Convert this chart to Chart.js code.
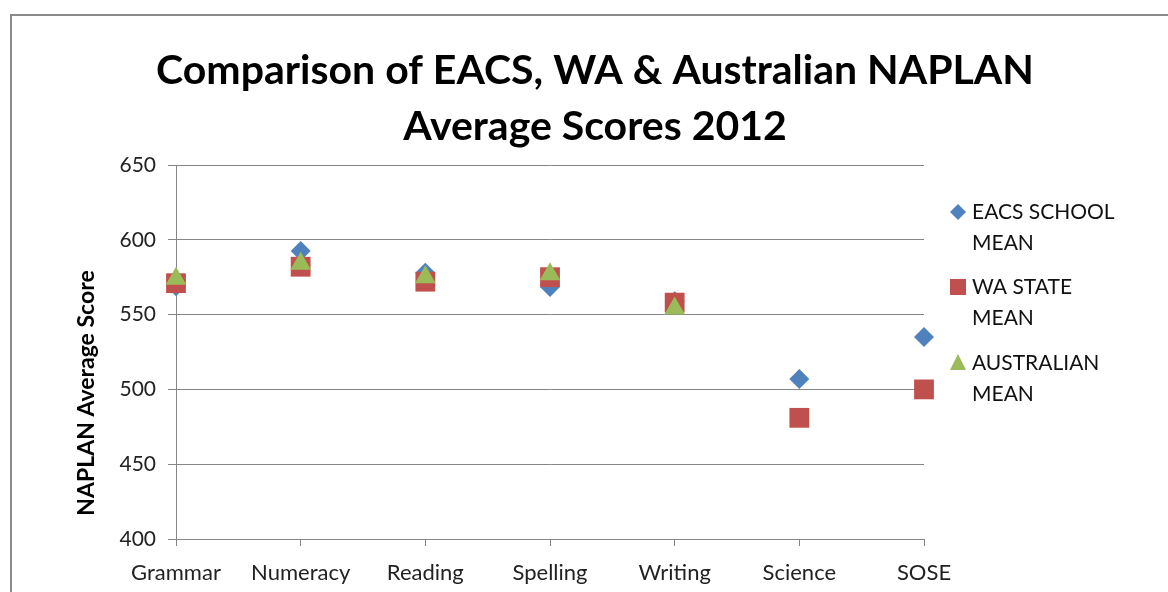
<!DOCTYPE html>
<html>
<head>
<meta charset="utf-8">
<script src="https://cdn.jsdelivr.net/npm/chart.js@4.4.0/dist/chart.umd.min.js"></script>
<style>
html,body{margin:0;padding:0;background:#fff;}
#wrap{width:1168px;height:592px;position:relative;}
</style>
</head>
<body>
<div id="wrap"><canvas id="c" width="1168" height="592"></canvas></div>
<script>
const categories = ["Grammar", "Numeracy", "Reading", "Spelling", "Writing", "Science", "SOSE"];
const eacsMean = [569, 592.5, 578, 568.5, 559, 507, 535];
const waMean = [571, 582, 572, 575, 558, 481, 500];
const ausMean = [574, 584, 575, 577, 554, null, null];
const seriesLabels = [["EACS SCHOOL", "MEAN"], ["WA STATE", "MEAN"], ["AUSTRALIAN", "MEAN"]];
const titleLines = ["Comparison of EACS, WA & Australian NAPLAN", "Average Scores 2012"];
const yAxisTitle = "NAPLAN Average Score";
const yMin = 400, yMax = 650, yStep = 50;

const FONT = "Lato, 'Open Sans', sans-serif";
const BLUE = "#4F81BD", RED = "#C0504D", GREEN = "#9BBB59";

const extras = {
  id: "extras",
  afterDraw(chart) {
    const ctx = chart.ctx;
    ctx.save();
    // frame
    ctx.strokeStyle = "#8a8a8a";
    ctx.lineWidth = 2;
    ctx.beginPath();
    ctx.moveTo(11, 600);
    ctx.lineTo(11, 15);
    ctx.lineTo(1200, 15);
    ctx.stroke();
    // title
    ctx.fillStyle = "#000";
    ctx.textAlign = "center";
    ctx.textBaseline = "alphabetic";
    ctx.font = "bold 41px " + FONT;
    ctx.fillText(titleLines[0], 595, 84);
    ctx.fillText(titleLines[1], 595, 140);
    // y axis title
    ctx.save();
    ctx.translate(87, 393);
    ctx.rotate(-Math.PI / 2);
    ctx.font = "bold 23px " + FONT;
    ctx.textBaseline = "middle";
    ctx.fillText(yAxisTitle, 0, 0);
    ctx.restore();
    // legend
    const items = chart.data.datasets;
    const ys = [212, 287, 363];
    ctx.font = "21px " + FONT;
    ctx.textAlign = "left";
    ctx.textBaseline = "middle";
    items.forEach((ds, i) => {
      const y = ys[i];
      ctx.fillStyle = ds.backgroundColor;
      const x = 958;
      ctx.beginPath();
      if (ds.pointStyle === "rectRot") {
        ctx.moveTo(x, y - 8); ctx.lineTo(x + 8, y); ctx.lineTo(x, y + 8); ctx.lineTo(x - 8, y); ctx.closePath();
      } else if (ds.pointStyle === "rect") {
        ctx.rect(x - 8, y - 8, 16, 16);
      } else {
        ctx.moveTo(x, y - 9); ctx.lineTo(x + 8, y + 7); ctx.lineTo(x - 8, y + 7); ctx.closePath();
      }
      ctx.fill();
      ctx.fillStyle = "#111";
      const lbl = seriesLabels[i];
      lbl.forEach((t, j) => ctx.fillText(t, 972, y + j * 31));
    });
    ctx.restore();
  }
};

new Chart(document.getElementById("c"), {
  type: "line",
  data: {
    labels: categories,
    datasets: [
      { label: seriesLabels[0].join(" "), data: eacsMean, pointStyle: "rectRot", pointRadius: 10, pointHoverRadius: 10,
        backgroundColor: BLUE, borderColor: BLUE, pointBorderWidth: 0, showLine: false, order: 3 },
      { label: seriesLabels[1].join(" "), data: waMean, pointStyle: "rect", pointRadius: 14, pointHoverRadius: 14,
        backgroundColor: RED, borderColor: RED, pointBorderWidth: 0, showLine: false, order: 2 },
      { label: seriesLabels[2].join(" "), data: ausMean, pointStyle: "triangle", pointRadius: 12, pointHoverRadius: 12,
        backgroundColor: GREEN, borderColor: GREEN, pointBorderWidth: 0, showLine: false, order: 1 }
    ]
  },
  options: {
    responsive: false,
    animation: false,
    events: [],
    layout: { padding: { left: 0, right: 244, top: 165, bottom: 0 } },
    plugins: { legend: { display: false }, title: { display: false }, tooltip: { enabled: false } },
    scales: {
      x: {
        offset: false,
        grid: { display: true, drawOnChartArea: false, drawTicks: true, tickLength: 7, color: "#868686" },
        border: { display: true, color: "#868686", width: 1 },
        ticks: { font: { family: FONT, size: 22 }, color: "#222", padding: 14, maxRotation: 0, autoSkip: false },
        afterFit(s) { s.height = 53; }
      },
      y: {
        min: yMin, max: yMax,
        grid: { color: "#868686", tickLength: 8, drawTicks: true },
        border: { display: true, color: "#868686", width: 1 },
        ticks: { stepSize: yStep, font: { family: FONT, size: 21 }, color: "#222", padding: 12 },
        afterFit(s) { s.width = 176; }
      }
    }
  },
  plugins: [extras]
});
</script>
</body>
</html>
